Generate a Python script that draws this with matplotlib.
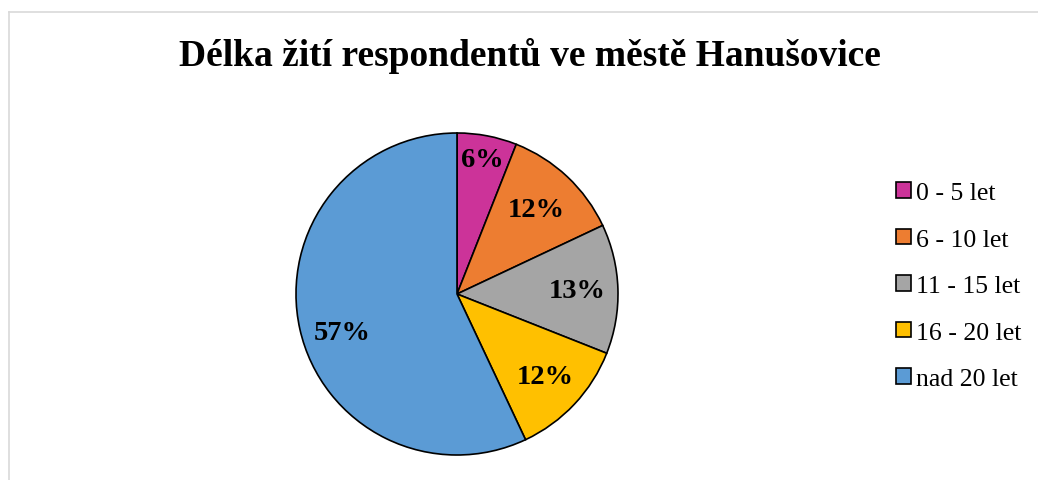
import matplotlib
matplotlib.use("Agg")
import matplotlib.pyplot as plt
from matplotlib.lines import Line2D
import numpy as np

title = "Délka žití respondentů ve městě Hanušovice"
categories = ["0 - 5 let", "6 - 10 let", "11 - 15 let", "16 - 20 let", "nad 20 let"]
values = [6, 12, 13, 12, 57]
colors = ["#CC3399", "#ED7D31", "#A5A5A5", "#FFC000", "#5B9BD5"]
label_texts = ["6%", "12%", "13%", "12%", "57%"]

plt.rcParams['font.family'] = ['Liberation Serif', 'DejaVu Serif']

W, H = 1038, 481
fig = plt.figure(figsize=(W / 100, H / 100), dpi=100)

# chart frame (light gray)
fig.add_artist(Line2D([8.5 / W, 1.0], [1 - 12.5 / H, 1 - 12.5 / H],
                      transform=fig.transFigure, color="#D9D9D9", lw=1.2))
fig.add_artist(Line2D([8.5 / W, 8.5 / W], [0, 1 - 12.5 / H],
                      transform=fig.transFigure, color="#D9D9D9", lw=1.2))

fig.text(530 / W, 1 - 56 / H, title, ha="center", va="center",
         fontsize=27, fontweight="bold")

cx, cy, r = 457, 295, 161
ax = fig.add_axes([(cx - r) / W, 1 - (cy + r) / H, 2 * r / W, 2 * r / H])
wedges, _ = ax.pie(values, colors=colors, startangle=90, counterclock=False,
                   wedgeprops=dict(edgecolor="black", linewidth=1.2))
ax.set_xlim(-1, 1)
ax.set_ylim(-1, 1)
ax.set_aspect("equal")
ax.axis("off")

# label placement: (radial distance, angular shift in degrees)
placement = [(0.85, 0), (0.72, 0), (0.745, 0), (0.75, 0), (0.75, 6)]
for w, txt, (d, shift) in zip(wedges, label_texts, placement):
    ang = np.deg2rad((w.theta1 + w.theta2) / 2 + shift)
    ax.text(d * np.cos(ang), d * np.sin(ang), txt, ha="center", va="center",
            fontsize=20.5, fontweight="bold")

leg = fig.legend(wedges, categories, loc="upper left",
                 bbox_to_anchor=(886 / W, 1 - 173 / H), frameon=False,
                 fontsize=18.5, handlelength=0.56, handleheight=0.56,
                 handletextpad=0.2, labelspacing=0.95, borderaxespad=0)
for h in leg.legend_handles:
    h.set_linewidth(1.2)

fig.savefig("out.png", dpi=100, facecolor="white")
